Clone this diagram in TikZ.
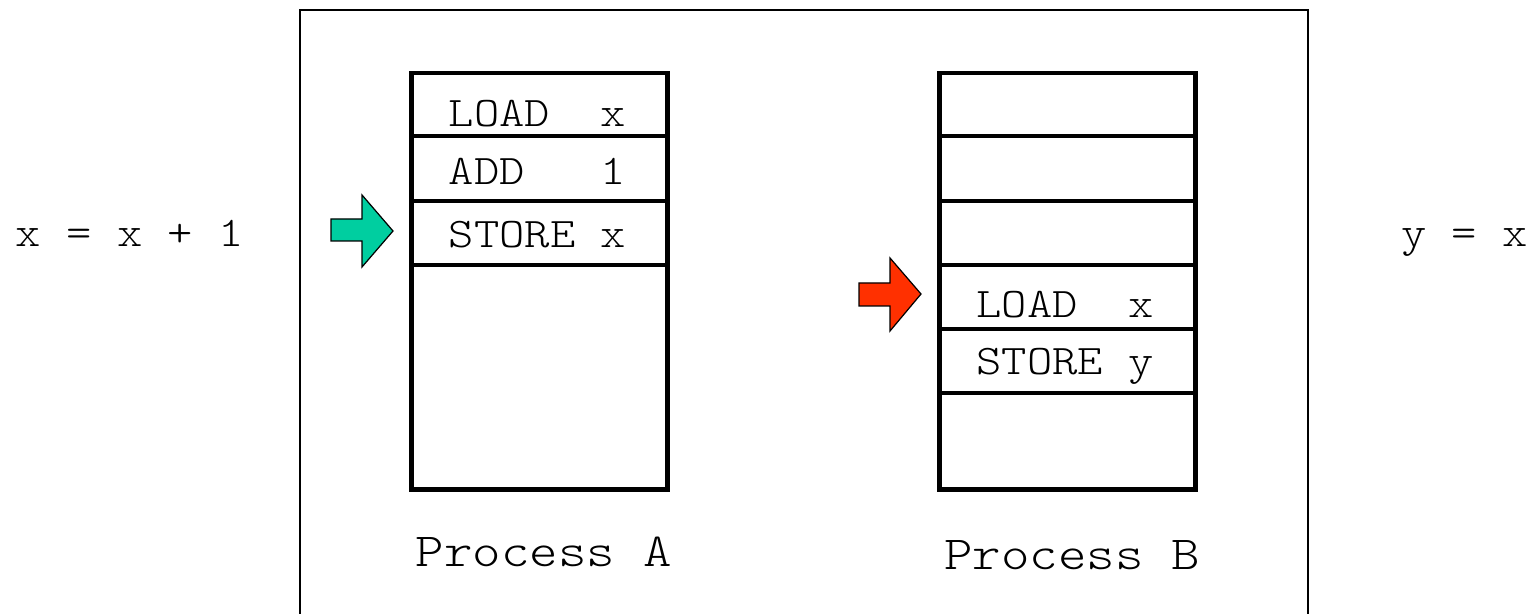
\documentclass[tikz,border=0pt]{standalone}
\usepackage{fontspec}
\setmonofont{lmmonolt10-regular.otf}[FakeStretch = 1.143]
\definecolor{pagreen}{RGB}{0,206,160}
\definecolor{pbred}{RGB}{255,48,0}
\tikzset{
	frame/.style = {line width = 1.2pt},
	stack/.style = {line width = 2.8pt},
	slot/.style = {line width = 1.8pt},
	instr/.style = {anchor = base, inner sep = 0pt, font = \ttfamily\fontsize{24}{28}\selectfont},
	caption/.style = {anchor = base, inner sep = 0pt, font = \ttfamily\fontsize{27}{32}\selectfont},
	pointer/.style = {draw = black, line width = 0.7pt, line join = miter}
}
\begin{document}
\begin{tikzpicture}[x = 0.02cm, y = -0.02cm]
\useasboundingbox (0,0) rectangle (1532,614);
\draw[frame] (300,10) rectangle (1308,650);

% process A
\draw[stack] (411.5,73) rectangle (667.5,489.5);
\foreach \y in {136,201,265}
{
	\draw[slot] (411.5,\y) -- (667.5,\y);
}
\node[instr] (loadA) at (537.5,126.7) {LOAD\ \ x};
\node[instr] (addA) at (537.5,184.3) {ADD\ \ \ 1};
\node[instr] (storeA) at (537.5,247.3) {STORE\ x};
\node[caption] (procA) at (544,566.7) {Process A};
\filldraw[pointer, fill = pagreen] (331,219) -- (362,219) -- (362,195) -- (393,231) -- (362,267) -- (362,241) -- (331,241) -- cycle;

% process B
\begin{scope}[shift = {(528,0)}]
	\draw[stack] (411.5,73) rectangle (667.5,489.5);
	\foreach \y in {136,201,265,329,393}
	{
		\draw[slot] (411.5,\y) -- (667.5,\y);
	}
	\node[instr] (loadB) at (537,317.3) {LOAD\ \ x};
	\node[instr] (storeB) at (537,375) {STORE\ y};
	\node[caption] (procB) at (544.3,570) {Process B};
	\filldraw[pointer, fill = pbred] (331,283) -- (362,283) -- (362,258) -- (393,294) -- (362,331) -- (362,306) -- (331,306) -- cycle;
\end{scope}

\node[instr] (codeA) at (129.8,246.7) {x = x + 1};
\node[instr] (codeB) at (1464.5,246.7) {y = x};
\end{tikzpicture}
\end{document}
